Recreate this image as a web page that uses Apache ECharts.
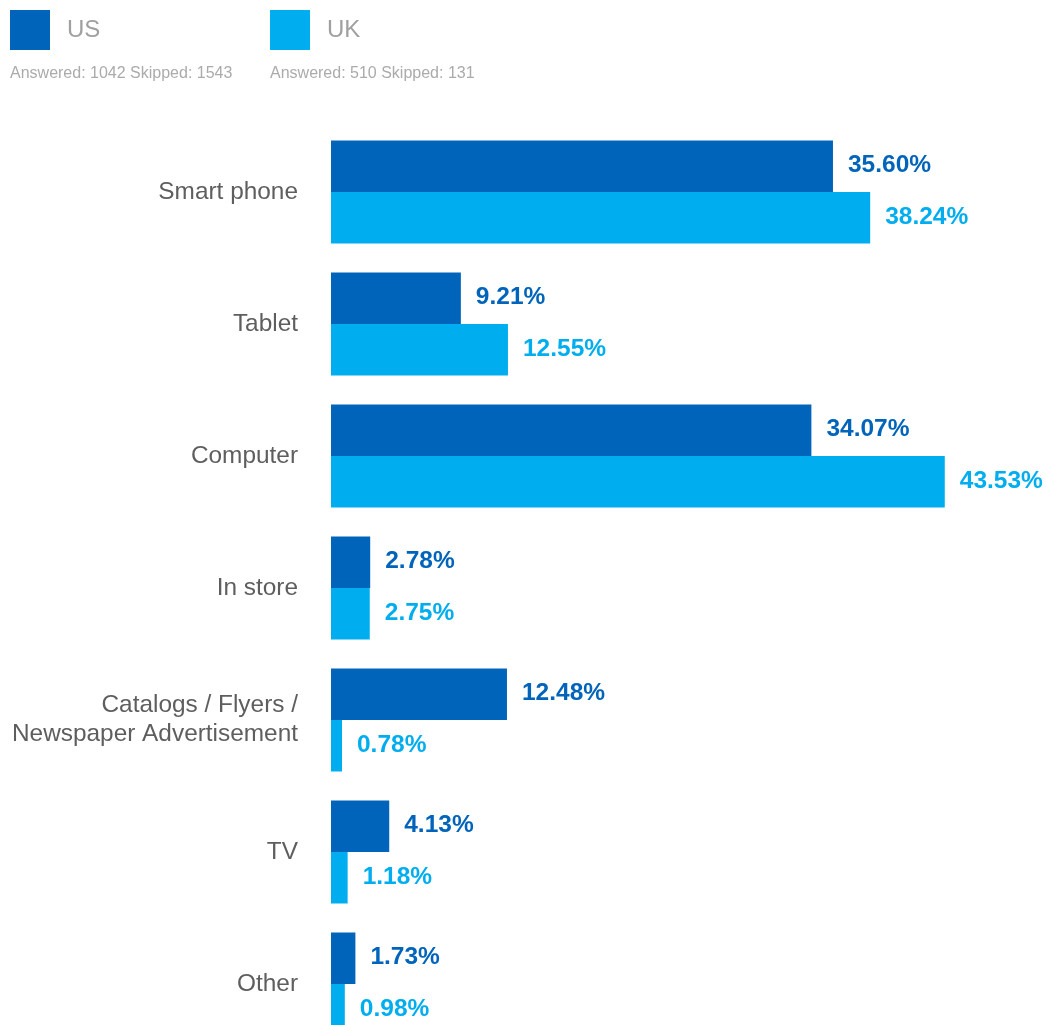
<!DOCTYPE html>
<html>
<head>
<meta charset="utf-8">
<script src="https://cdn.jsdelivr.net/npm/echarts@6/dist/echarts.min.js"></script>
<style>
  html, body { margin: 0; padding: 0; background: #fff; }
  #chart { width: 1046px; height: 1025px; }
</style>
</head>
<body>
<div id="chart"></div>
<script>
// Where respondents shop: share of answers per channel
const categories = [
  'Smart phone',
  'Tablet',
  'Computer',
  'In store',
  'Catalogs / Flyers /\nNewspaper Advertisement',
  'TV',
  'Other'
];
const usValues = [35.60, 9.21, 34.07, 2.78, 12.48, 4.13, 1.73];
const ukValues = [38.24, 12.55, 43.53, 2.75, 0.78, 1.18, 0.98];
const seriesNames = ['US', 'UK'];
const seriesNotes = ['Answered: 1042 Skipped: 1543', 'Answered: 510 Skipped: 131'];

const US_COLOR = '#0064BB';
const UK_COLOR = '#00AEEF';
const FONT = '"Liberation Sans", Arial, Helvetica, sans-serif';

const chart = echarts.init(document.getElementById('chart'));

function legendFor(name, left) {
  return {
    data: [name],
    left: left,
    top: 10,
    padding: 0,
    itemWidth: 40,
    itemHeight: 40,
    icon: 'rect',
    selectedMode: false,
    textStyle: {
      fontFamily: FONT,
      fontSize: 24,
      color: '#a0a0a0',
      padding: [8, 0, 0, 12]
    }
  };
}

function valueLabel(color, offsetY) {
  return {
    show: true,
    position: 'right',
    distance: 15,
    offset: [0, offsetY],
    fontFamily: FONT,
    fontSize: 24.5,
    fontWeight: 'bold',
    color: color,
    formatter: p => p.value.toFixed(2) + '%'
  };
}

chart.setOption({
  backgroundColor: '#ffffff',
  animation: false,
  legend: [legendFor(seriesNames[0], 10), legendFor(seriesNames[1], 270)],
  graphic: [
    {
      type: 'text', left: 10, top: 66,
      style: { text: seriesNotes[0], fontFamily: FONT, fontSize: 16, fill: '#ababab' }
    },
    {
      type: 'text', left: 270, top: 66,
      style: { text: seriesNotes[1], fontFamily: FONT, fontSize: 16, fill: '#ababab' }
    }
  ],
  grid: { left: 331, top: 126, width: 705, height: 924, outerBoundsMode: 'none' },
  xAxis: {
    type: 'value',
    min: 0,
    max: 50,
    show: false
  },
  yAxis: {
    type: 'category',
    inverse: true,
    data: categories,
    axisLine: { show: false },
    axisTick: { show: false },
    splitLine: { show: false },
    axisLabel: {
      margin: 33,
      fontFamily: FONT,
      fontSize: 24.4,
      lineHeight: 29,
      color: '#5e5e5e',
      align: 'right',
      padding: [0, 0, 5, 0]
    }
  },
  series: [
    {
      name: seriesNames[0],
      type: 'bar',
      data: usValues,
      barWidth: 51.5,
      barGap: '0%',
      itemStyle: { color: US_COLOR },
      label: valueLabel(US_COLOR, -1)
    },
    {
      name: seriesNames[1],
      type: 'bar',
      data: ukValues,
      barWidth: 51.5,
      barGap: '0%',
      itemStyle: { color: UK_COLOR },
      label: valueLabel(UK_COLOR, -1)
    }
  ]
});
</script>
</body>
</html>
